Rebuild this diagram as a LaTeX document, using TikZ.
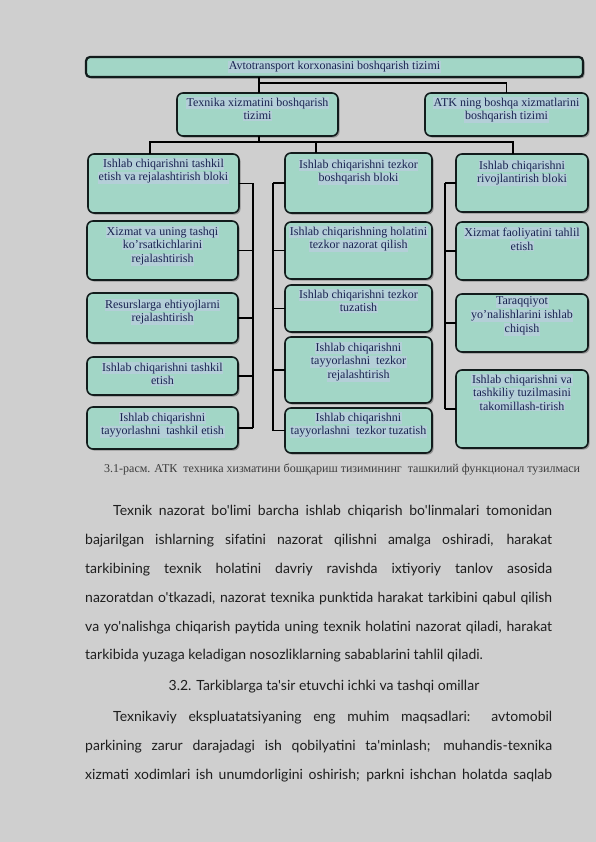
\documentclass[tikz,border=0pt]{standalone}
\usepackage{fontspec}
\setmainfont{Liberation Serif}
\newfontfamily\bodyfont{Lato}
\usetikzlibrary{shadows}
\definecolor{bg}{RGB}{207,207,207}
\definecolor{boxfill}{RGB}{162,214,198}
\definecolor{hlc}{RGB}{180,207,216}
\definecolor{boxline}{RGB}{18,28,28}
\definecolor{boxtxt}{RGB}{25,35,80}
\definecolor{captxt}{RGB}{60,60,60}
\definecolor{bodytxt}{RGB}{30,30,30}
\newcommand{\hlt}[1]{{\setlength{\fboxsep}{0.6pt}\colorbox{hlc}{#1}}}
\newcommand{\bx}[7]{% name, x1, y1, x2, y2, yshift, text
  \pgfmathsetmacro\myBW{#4-#2}\pgfmathsetmacro\myBH{#5-#3}%
  \node[blk, minimum width=\myBW pt, minimum height=\myBH pt] (#1) at (#2,#3) {};
  \node[btxt] (#1t) at ([yshift=#6pt]#1.north) {#7};}
\tikzset{
  blk/.style={draw=boxline, line width=1.6pt, rounded corners=6pt, fill=boxfill,
    drop shadow={shadow xshift=1.6pt, shadow yshift=-1.6pt, fill=black!70, opacity=0.45},
    anchor=north west, inner sep=0pt, outer sep=0pt},
  btxt/.style={anchor=north, align=center, text=boxtxt, inner sep=0pt,
    font=\fontsize{12}{13.8}\selectfont},
  con/.style={line width=1.4pt, draw=black},
  bodyline/.style={anchor=base west, inner sep=0pt,
    font=\bodyfont\fontsize{14}{14}\selectfont, text=bodytxt}
}
\begin{document}
\begin{tikzpicture}[x=1pt, y=-1pt]
\useasboundingbox (0,0) rectangle (596,842);
\fill[bg] (0,0) rectangle (596,842);

% top box
\node[blk, rounded corners=4pt, line width=2.2pt, minimum width=497pt, minimum height=20pt] (T) at (86,57) {};
\node[btxt, anchor=center] (Tt) at (T.center) {\hlt{Avtotransport korxonasini boshqarish tizimi}};

% level 2
\bx{La}{177}{93}{338}{136}{-4}{\hlt{Texnika xizmatini boshqarish}\\\hlt{tizimi}}
\bx{Lb}{425}{93}{588}{136}{-4}{\hlt{ATK ning boshqa xizmatlarini}\\\hlt{boshqarish tizimi}}

% left column
\bx{A1}{88}{154}{239}{213}{-4}{\hlt{Ishlab chiqarishni tashkil}\\\hlt{etish va rejalashtirish bloki}}
\bx{A2}{87}{221}{238}{280}{-5}{\hlt{Xizmat va uning tashqi}\\\hlt{ko'rsatkichlarini}\\\hlt{rejalashtirish}}
\bx{A3}{87}{293}{238}{343}{-6}{\hlt{Resurslarga ehtiyojlarni}\\\hlt{rejalashtirish}}
\bx{A4}{87}{357}{238}{395}{-5}{\hlt{Ishlab chiqarishni tashkil}\\\hlt{etish}}
\bx{A5}{87}{407}{238}{449}{-5}{\hlt{Ishlab chiqarishni}\\\hlt{tayyorlashni\ \ tashkil etish}}

% middle column
\bx{B1}{285}{153}{432}{213}{-6}{\hlt{Ishlab chiqarishni tezkor}\\\hlt{boshqarish bloki}}
\bx{B2}{285}{222}{432}{279}{-4}{\hlt{Ishlab chiqarishning holatini}\\\hlt{tezkor nazorat qilish}}
\bx{B3}{285}{285}{432}{332}{-4}{\hlt{Ishlab chiqarishni tezkor}\\\hlt{tuzatish}}
\bx{B4}{285}{337}{432}{403}{-5}{\hlt{Ishlab chiqarishni}\\\hlt{tayyorlashni\ \ tezkor}\\\hlt{rejalashtirish}}
\bx{B5}{285}{408}{432}{453}{-4}{\hlt{Ishlab chiqarishni}\\\hlt{tayyorlashni\ \ tezkor tuzatish}}

% right column
\bx{C1}{456}{154}{588}{212}{-6}{\hlt{Ishlab chiqarishni}\\\hlt{rivojlantirish bloki}}
\bx{C2}{456}{222}{588}{280}{-5}{\hlt{Xizmat faoliyatini tahlil}\\\hlt{etish}}
\bx{C3}{456}{294}{588}{352}{-2}{\hlt{Taraqqiyot}\\\hlt{yo'nalishlarini ishlab}\\\hlt{chiqish}}
\bx{C4}{456}{370}{588}{448}{-4}{\hlt{Ishlab chiqarishni va}\\\hlt{tashkiliy tuzilmasini}\\\hlt{takomillash-tirish}}

% connectors top
\coordinate (j1) at (259,83);
\draw[con] (T.south -| j1) -- (La.north -| j1);
\draw[con] (j1) -| (Lb.north);
% level 3 distribution
\coordinate (d1) at (150,142);
\coordinate (d2) at (316,142);
\coordinate (d3) at (513,142);
\draw[con] (La.south -| j1) -- (j1 |- d1);
\draw[con] (A1.north -| d1) -- (d1) -- (d3) -- (C1.north -| d3);
\draw[con] (d2) -- (B1.north -| d2);
% buses
\coordinate (lb) at (253,0);
\coordinate (mb) at (273,0);
\coordinate (rb) at (445,0);
\draw[con] (A1.east -| lb) -- (A5.east -| lb);
\foreach \n in {A1,A2,A3,A4,A5} \draw[con] (\n.east) -- (\n.east -| lb);
\draw[con] (B1.west -| mb) -- (B5.west -| mb);
\foreach \n in {B1,B2,B3,B4,B5} \draw[con] (\n.west) -- (\n.west -| mb);
\draw[con] (C1.west -| rb) -- (C4.west -| rb);
\foreach \n in {C1,C2,C3,C4} \draw[con] (\n.west) -- (\n.west -| rb);

% caption
\node[anchor=base west, inner sep=0pt, text=captxt, font=\fontsize{12}{14}\selectfont] (cap) at (104,472)
  {3.1-расм. АТК\ \ техника хизматини бошқариш тизимининг\ \ ташкилий функционал тузилмаси};

% body text
\node[bodyline] (p1) at (113,515) {\makebox[439pt][s]{Texnik nazorat bo'limi barcha ishlab chiqarish bo'linmalari tomonidan}};
\node[bodyline] (p2) at (85,544) {\makebox[467pt][s]{bajarilgan ishlarning sifatini nazorat qilishni amalga oshiradi, harakat}};
\node[bodyline] (p3) at (85,573) {\makebox[467pt][s]{tarkibining texnik holatini davriy ravishda ixtiyoriy tanlov asosida}};
\node[bodyline] (p4) at (85,602) {\makebox[467pt][s]{nazoratdan o'tkazadi, nazorat texnika punktida harakat tarkibini qabul qilish}};
\node[bodyline] (p5) at (85,631) {\makebox[467pt][s]{va yo'nalishga chiqarish paytida uning texnik holatini nazorat qiladi, harakat}};
\node[bodyline] (p6) at (85,659) {tarkibida yuzaga keladigan nosozliklarning sabablarini tahlil qiladi.};
\node[bodyline, anchor=base] (h1) at (324,690) {3.2. Tarkiblarga ta'sir etuvchi ichki va tashqi omillar};
\node[bodyline] (p7) at (113,721) {\makebox[439pt][s]{Texnikaviy ekspluatatsiyaning eng muhim maqsadlari: avtomobil}};
\node[bodyline] (p8) at (85,750) {\makebox[467pt][s]{parkining zarur darajadagi ish qobilyatini ta'minlash; muhandis-texnika}};
\node[bodyline] (p9) at (85,779) {\makebox[467pt][s]{xizmati xodimlari ish unumdorligini oshirish; parkni ishchan holatda saqlab}};
\end{tikzpicture}
\end{document}
